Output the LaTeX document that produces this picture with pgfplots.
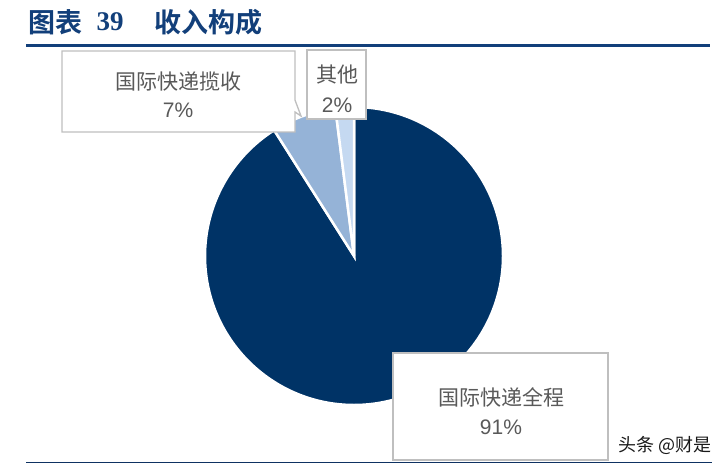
\documentclass[border=0pt]{standalone}
\usepackage{pgfplots}
\usepackage{pgfplotstable}
\pgfplotsset{compat=1.18}
\usepackage{fontspec}
\setmainfont{Liberation Sans}
\newfontfamily\cjk{Noto Sans CJK SC}
\newfontfamily\cjkb{Noto Sans CJK SC Bold}
\newfontfamily\serifb{Liberation Serif}

\definecolor{titleblue}{HTML}{123F7A}
\definecolor{pieA}{HTML}{003366}
\definecolor{pieB}{HTML}{95B3D7}
\definecolor{pieC}{HTML}{C5D9F1}
\definecolor{lbl}{HTML}{595959}
\definecolor{boxgray}{HTML}{BFBFBF}

% revenue shares, %
\pgfplotstableread{
share
91
7
2
}\shares
\pgfplotstablegetelem{0}{share}\of\shares \let\sA\pgfplotsretval
\pgfplotstablegetelem{1}{share}\of\shares \let\sB\pgfplotsretval
\pgfplotstablegetelem{2}{share}\of\shares \let\sC\pgfplotsretval
\pgfmathsetmacro\angA{90-3.6*\sA}
\pgfmathsetmacro\angB{\angA-3.6*\sB}
\pgfmathsetmacro\angC{\angB-3.6*\sC}

\begin{document}
\begin{tikzpicture}
\begin{axis}[
    x=1pt, y=1pt,
    xmin=0, xmax=727, ymin=0, ymax=464,
    scale only axis,
    hide axis,
    clip=false,
]
% keep the full canvas in the bounding box
\path (axis cs:0,0) rectangle (axis cs:727,464);

% title
\node[titleblue, font=\cjkb\fontsize{27}{27}\selectfont, anchor=center, inner sep=0]
    at (axis cs:55,442) {图表};
\node[titleblue, font=\serifb\bfseries\fontsize{27}{27}\selectfont, anchor=center, inner sep=0]
    at (axis cs:110,442) {39};
\node[titleblue, font=\cjkb\fontsize{27}{27}\selectfont, anchor=center, inner sep=0]
    at (axis cs:208,442) {收入构成};
\draw[titleblue, line width=3pt] (axis cs:26,418) -- (axis cs:710,418);
\draw[titleblue!80!black, line width=1.2pt] (axis cs:26,1.5) -- (axis cs:712,1.5);

% pie
\fill[pieA, draw=white, line width=2.5pt] (axis cs:354,208) -- ++(90:149pt)
    arc[start angle=90, end angle=\angA, radius=149pt] -- cycle;
\fill[pieB, draw=white, line width=2.5pt] (axis cs:354,208) -- ++(\angA:149pt)
    arc[start angle=\angA, end angle=\angB, radius=149pt] -- cycle;
\fill[pieC, draw=white, line width=2.5pt] (axis cs:354,208) -- ++(\angB:149pt)
    arc[start angle=\angB, end angle=\angC, radius=149pt] -- cycle;

% label boxes
\filldraw[fill=white, draw=boxgray, line width=1.3pt]
    (axis cs:62,413) -- (axis cs:295,413) -- (axis cs:295,364) -- (axis cs:301,348)
    -- (axis cs:295,352) -- (axis cs:295,332) -- (axis cs:62,332) -- cycle;
\filldraw[fill=white, draw=boxgray, line width=1.3pt]
    (axis cs:307,414) rectangle (axis cs:366,345);
\filldraw[fill=white, draw=boxgray, line width=1.3pt]
    (axis cs:393,111) rectangle (axis cs:608,4);

\node[lbl, font=\cjk\fontsize{21}{21}\selectfont, inner sep=0] at (axis cs:178,382) {国际快递揽收};
\node[lbl, font=\fontsize{21}{21}\selectfont, inner sep=0] at (axis cs:178,354) {7\%};
\node[lbl, font=\cjk\fontsize{21}{21}\selectfont, inner sep=0] at (axis cs:337,389) {其他};
\node[lbl, font=\fontsize{21}{21}\selectfont, inner sep=0] at (axis cs:337,359) {2\%};
\node[lbl, font=\cjk\fontsize{21}{21}\selectfont, inner sep=0] at (axis cs:501,67) {国际快递全程};
\node[lbl, font=\fontsize{21}{21}\selectfont, inner sep=0] at (axis cs:501,37) {91\%};

% watermark
\node[black!90, font=\cjk\fontsize{18}{18}\selectfont, inner sep=0] at (axis cs:665,19) {头条 @财是};
\end{axis}
\end{tikzpicture}
\end{document}
